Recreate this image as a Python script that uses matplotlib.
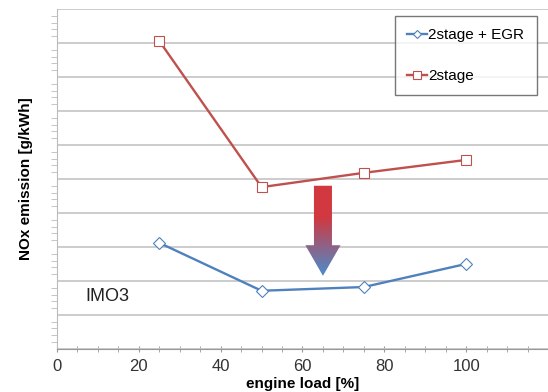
import numpy as np
import matplotlib.pyplot as plt
from matplotlib.patches import Polygon
from matplotlib.ticker import MultipleLocator

plt.rcParams['font.family'] = ['Liberation Sans', 'DejaVu Sans']

# values (y axis has no labels, unit = one gridline)
load = [25, 50, 75, 100]
nox_2stage = [9.06, 4.76, 5.18, 5.56]
nox_egr = [3.12, 1.71, 1.82, 2.50]

red = '#c0504d'
blue = '#4f81bd'

fig = plt.figure(figsize=(5.48, 3.92), dpi=100)
ax = fig.add_axes([0.104, 0.110, 0.896, 0.867])

ax.plot(load, nox_egr, color=blue, lw=1.7, marker='D', ms=6.5,
        mfc='white', mec=blue, mew=0.8, label='2stage + EGR')
ax.plot(load, nox_2stage, color=red, lw=1.7, marker='s', ms=7.5,
        mfc='white', mec=red, mew=0.8, label='2stage')

ax.set_xlim(0, 120)
ax.set_ylim(0, 10)
ax.xaxis.set_minor_locator(MultipleLocator(5))
ax.yaxis.set_major_locator(MultipleLocator(1))
ax.yaxis.set_minor_locator(MultipleLocator(0.2))
ax.set_yticklabels([])
ax.set_xticks([0, 20, 40, 60, 80, 100])
ax.set_xticklabels(['0', '20', '40', '60', '80', '100'], fontsize=12, color='#333333')
ax.tick_params(axis='x', which='both', direction='inout', length=5, color='#999999')
ax.tick_params(axis='x', which='major', pad=5)
ax.tick_params(axis='y', which='both', direction='out', length=4, color='#bbbbbb')
ax.tick_params(axis='y', which='major', length=0)

ax.grid(axis='y', color='#c8c8c8', lw=1.3)
ax.set_axisbelow(True)
for s in ['top', 'right']:
    ax.spines[s].set_visible(False)
ax.spines['left'].set_color('#bbbbbb')
ax.spines['bottom'].set_color('#999999')

ax.set_xlabel('engine load [%]', fontsize=11, fontweight='bold', labelpad=2)
ax.set_ylabel('NOx emission [g/kWh]', fontsize=11, fontweight='bold', labelpad=10)

ax.text(7, 1.4, 'IMO3', fontsize=13, color='#222222')

# gradient arrow
arrow_x = 65
hw, sw = 4.3, 2.2
tip, head_base, top = 2.15, 3.05, 4.8
verts = [(arrow_x - sw, top), (arrow_x + sw, top), (arrow_x + sw, head_base),
         (arrow_x + hw, head_base), (arrow_x, tip), (arrow_x - hw, head_base),
         (arrow_x - sw, head_base)]
poly = Polygon(verts, closed=True, fc='none', ec='none')
ax.add_patch(poly)
c_top = np.array([0.82, 0.22, 0.25])
c_bot = np.array([0.29, 0.55, 0.80])
t = np.linspace(0, 1, 100)
t = np.clip((t - 0.35) / 0.65, 0, 1)
grad = (c_top[None, :] * (1 - t[:, None]) + c_bot[None, :] * t[:, None])[:, None, :]
im = ax.imshow(grad, extent=[arrow_x - hw, arrow_x + hw, tip, top],
               aspect='auto', zorder=3, origin='upper')
im.set_clip_path(poly)
ax.set_xlim(0, 120)
ax.set_ylim(0, 10)

leg = ax.legend(loc='upper left', bbox_to_anchor=(0.688, 0.979), fontsize=11,
                frameon=True, fancybox=False, edgecolor='#555555',
                handlelength=1.3, handletextpad=0.1, labelspacing=1.75,
                borderpad=0.8, borderaxespad=0, markerscale=0.7)
leg.get_frame().set_linewidth(1.0)

fig.savefig('out.png', dpi=100)
